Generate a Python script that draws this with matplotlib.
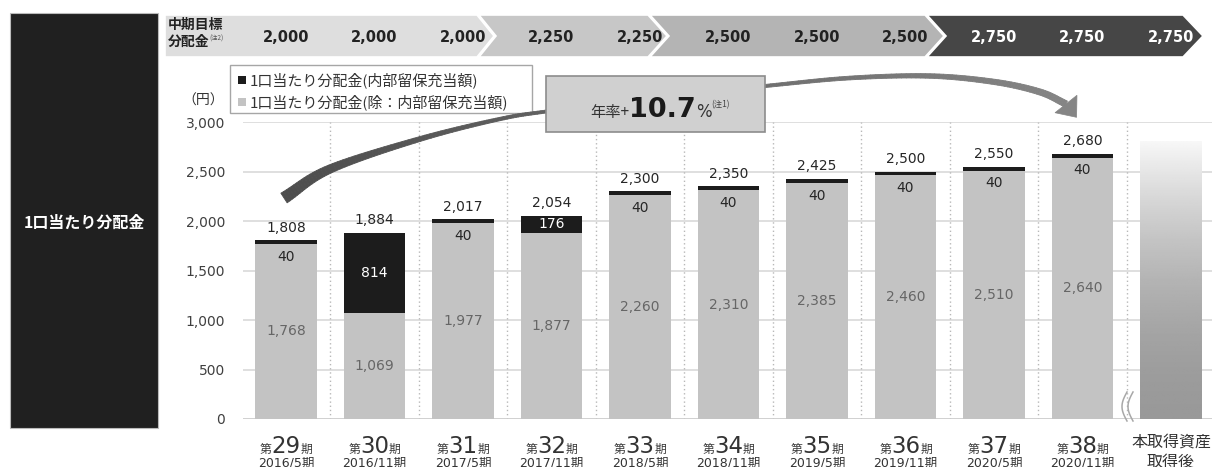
import numpy as np
import matplotlib
matplotlib.use('Agg')
import matplotlib.pyplot as plt
from matplotlib.patches import Polygon, Rectangle
from matplotlib.collections import PolyCollection
from matplotlib.transforms import blended_transform_factory, offset_copy
from matplotlib.ticker import FuncFormatter

# ---------------- data ----------------
period_numbers = ['29', '30', '31', '32', '33', '34', '35', '36', '37', '38']
period_dates = ['2016/5期', '2016/11期', '2017/5期', '2017/11期', '2018/5期',
                '2018/11期', '2019/5期', '2019/11期', '2020/5期', '2020/11期']
last_label = ['本取得資産', '取得後']
base_dist = [1768, 1069, 1977, 1877, 2260, 2310, 2385, 2460, 2510, 2640]
reserve_dist = [40, 814, 40, 176, 40, 40, 40, 40, 40, 40]
total_dist = [1808, 1884, 2017, 2054, 2300, 2350, 2425, 2500, 2550, 2680]
target_dist = [2000, 2000, 2000, 2250, 2250, 2500, 2500, 2500, 2750, 2750, 2750]
growth_rate = '10.7'
y_ticks = [0, 500, 1000, 1500, 2000, 2500, 3000]
legend_labels = ['1口当たり分配金(内部留保充当額)', '1口当たり分配金(除：内部留保充当額)']
gradient_top = 2800

JP = ['Noto Sans CJK JP', 'DejaVu Sans']
MIX = ['DejaVu Sans', 'Noto Sans CJK JP']
NUM = ['DejaVu Sans']

W, H = 1214, 467
fig = plt.figure(figsize=(W / 100, H / 100), dpi=100)
fig.patch.set_facecolor('white')

# main axes: x=0 at 286px, 88.5 px per bar; y: 0 at 419px, 3000 at 122px
ax = fig.add_axes([243 / W, (H - 419) / H, (1212 - 243) / W, (419 - 122) / H], zorder=1)
ov = fig.add_axes([0, 0, 1, 1], zorder=5)
ov.set_xlim(0, W)
ov.set_ylim(H, 0)
ov.axis('off')
ov.patch.set_visible(False)
renderer = fig.canvas.get_renderer()

GRAY = '#c3c3c3'
BLACK = '#1c1c1c'
x = np.arange(len(base_dist))
bw = 0.70
ax.bar(x, base_dist, width=bw, color=GRAY, zorder=3)
ax.bar(x, reserve_dist, bottom=base_dist, width=bw, color=BLACK, zorder=3)

# gradient bar (after acquisition)
gx = len(base_dist)
t = np.linspace(0, 1, 256)
g = 0.60 + 0.37 * t ** 1.8
ax.imshow(g[:, None], extent=(gx - bw / 2, gx + bw / 2, 0, gradient_top), aspect='auto',
          cmap='gray', vmin=0, vmax=1, origin='lower', zorder=3)

ax.set_xlim(-0.486, 10.463)
ax.set_ylim(0, 3000)
ax.set_yticks(y_ticks)
ax.yaxis.set_major_formatter(FuncFormatter(lambda v, p: f'{int(v):,}'))
ax.tick_params(axis='y', length=0, pad=13, labelsize=10, labelcolor='#404040')
for lab in ax.get_yticklabels():
    lab.set_family(NUM)
ax.set_xticks([])
for s in ax.spines.values():
    s.set_visible(False)
ax.yaxis.grid(True, color='#d9d9d9', lw=1.2, zorder=0)
ax.set_axisbelow(True)
ax.axhline(0, color='#cfcfcf', lw=1.2, zorder=2)
for i in range(len(base_dist)):
    ax.vlines(i + 0.5, 0, 3000, colors='#b8b8b8', linestyles=(0, (1, 2)), lw=1, zorder=1)

# value labels
for i in range(len(base_dist)):
    ax.annotate(f'{total_dist[i]:,}', xy=(i, total_dist[i]), xytext=(0, 9), textcoords='offset points',
                ha='center', va='center', fontsize=10, color='#262626', family=NUM, zorder=5)
    if reserve_dist[i] < 100:
        ax.annotate(f'{reserve_dist[i]:,}', xy=(i, total_dist[i]), xytext=(0, -12), textcoords='offset points',
                    ha='center', va='center', fontsize=10, color='#262626', family=NUM, zorder=5)
    else:
        ax.text(i, base_dist[i] + reserve_dist[i] / 2, f'{reserve_dist[i]:,}', ha='center', va='center',
                fontsize=10, color='white', family=NUM, zorder=5)
    ax.text(i, base_dist[i] / 2, f'{base_dist[i]:,}', ha='center', va='center',
            fontsize=10, color='#666666', family=NUM, zorder=5)

# helper: compose mixed-size text row
def compose(pieces, xpos, ypos, trans, ha='center', zorder=20):
    made = []
    widths = []
    for s, size, weight, color, family, dy in pieces:
        tt = ov.text(0, 0, s, fontsize=size, fontweight=weight, color=color, family=family,
                     va='baseline', ha='left', zorder=zorder)
        widths.append(tt.get_window_extent(renderer).width)
        made.append((tt, dy))
    total = sum(widths)
    cur = -total / 2 if ha == 'center' else 0
    for (tt, dy), w in zip(made, widths):
        tt.set_transform(offset_copy(trans, fig=fig, x=cur, y=dy, units='dots'))
        tt.set_position((xpos, ypos))
        cur += w

bx = blended_transform_factory(ax.transData, ov.transData)

# category labels
for i, num in enumerate(period_numbers):
    compose([('第', 8.5, 'normal', '#3a3a3a', JP, 0),
             (num, 16.5, 'normal', '#333333', NUM, 0),
             ('期', 8.5, 'normal', '#3a3a3a', JP, 0)], i, 453, bx)
    ov.text(i, 457, period_dates[i], transform=bx, ha='center', va='top', fontsize=9,
            color='#333333', family=MIX)
ov.text(gx, 442, last_label[0], transform=bx, ha='center', va='center', fontsize=11.5,
        color='#333333', family=JP)
ov.text(gx, 463, last_label[1], transform=bx, ha='center', va='center', fontsize=11.5,
        color='#333333', family=JP)

# break mark
for dx in (0, 6):
    yy = np.linspace(392, 421, 30)
    xx = 1127 + dx - 5 * np.sin(np.pi * (yy - 392) / 29)
    ov.plot(xx, yy, color='#a8a8a8', lw=1.1, zorder=6)

# left black box
ov.add_patch(Rectangle((10, 13), 148, 415, facecolor='#202020', edgecolor='#bbbbbb', lw=0.8, zorder=2))
ov.text(84, 223, '1口当たり分配金', ha='center', va='center', fontsize=11.5, fontweight='bold',
        color='white', family=JP, zorder=3)

# banner chevrons
segs = [
    [(165, 15), (477, 15), (494, 36), (477, 57), (165, 57)],
    [(479, 15), (648, 15), (667, 36), (648, 57), (479, 57), (496, 36)],
    [(650, 15), (925, 15), (944, 36), (925, 57), (650, 57), (669, 36)],
    [(927, 15), (1183, 15), (1203, 36), (1183, 57), (927, 57), (946, 36)],
]
seg_cols = ['#dedede', '#c7c7c7', '#b4b4b4', '#464646']
for pts, c in zip(segs, seg_cols):
    ov.add_patch(Polygon(pts, closed=True, facecolor=c, edgecolor='white', lw=1.2, zorder=2))
seg_of = [0, 0, 0, 1, 1, 2, 2, 2, 3, 3, 3]
for i, v in enumerate(target_dist):
    col = 'white' if seg_of[i] == 3 else '#222222'
    ov.text(i, 37, f'{v:,}', transform=bx, ha='center', va='center', fontsize=10.5,
            fontweight='bold', color=col, family=NUM, zorder=4)
ov.text(168, 25, '中期目標', ha='left', va='center', fontsize=10, fontweight='bold',
        color='#222222', family=JP, zorder=4)
compose([('分配金', 10, 'bold', '#222222', JP, 0),
         ('(注2)', 4.5, 'normal', '#555555', JP, 5)], 168, 46, ov.transData, ha='left', zorder=4)

# legend
ov.add_patch(Rectangle((230, 65), 302, 48, facecolor='white', edgecolor='#a6a6a6', lw=1, zorder=8))
ov.add_patch(Rectangle((238, 76), 8, 8, facecolor=BLACK, edgecolor='none', zorder=9))
ov.add_patch(Rectangle((238, 98), 8, 8, facecolor=GRAY, edgecolor='none', zorder=9))
ov.text(250, 80, legend_labels[0], ha='left', va='center', fontsize=10.8, color='#333333', family=JP, zorder=9)
ov.text(250, 102, legend_labels[1], ha='left', va='center', fontsize=10.8, color='#333333', family=JP, zorder=9)
ov.text(203, 101, '（円）', ha='center', va='center', fontsize=10, color='#333333', family=JP, zorder=9)

# curved growth arrow (pixel coords)
P = np.array([(284, 198), (330, 169), (420, 139), (500, 119), (550, 111), (660, 97), (765, 86),
              (850, 78), (930, 76), (995, 82), (1040, 92), (1066, 104)], dtype=float)
Pe = np.vstack([2 * P[0] - P[1], P, 2 * P[-1] - P[-2]])
curve = []
for k in range(1, len(Pe) - 2):
    p0, p1, p2, p3 = Pe[k - 1], Pe[k], Pe[k + 1], Pe[k + 2]
    for tt in np.linspace(0, 1, 16, endpoint=False):
        t2, t3 = tt * tt, tt * tt * tt
        curve.append(0.5 * ((2 * p1) + (-p0 + p2) * tt + (2 * p0 - 5 * p1 + 4 * p2 - p3) * t2
                            + (-p0 + 3 * p1 - 3 * p2 + p3) * t3))
curve.append(P[-1])
curve = np.array(curve)
tan = np.gradient(curve, axis=0)
tan /= np.linalg.norm(tan, axis=1)[:, None]
nrm = np.stack([-tan[:, 1], tan[:, 0]], axis=1)
seglen = np.r_[0, np.cumsum(np.linalg.norm(np.diff(curve, axis=0), axis=1))]
s = seglen / seglen[-1]
wid = 2.0 + 9.5 * (1 - s) ** 6 + 4.5 * s ** 3
L = curve + nrm * (wid / 2)[:, None]
R = curve - nrm * (wid / 2)[:, None]
quads = []
cols = []
c0 = np.array([0.30, 0.30, 0.30])
c1 = np.array([0.52, 0.52, 0.52])
for k in range(len(curve) - 1):
    quads.append([L[k], L[k + 1], R[k + 1], R[k]])
    c = c0 + (c1 - c0) * s[k]
    cols.append(tuple(c))
ov.add_collection(PolyCollection(quads, facecolors=cols, edgecolors=cols, lw=0.6, zorder=10))
E = curve[-1]
d = np.array([0.62, 0.78])
d /= np.linalg.norm(d)
n = np.array([-d[1], d[0]])
head = [E + n * 14, E - n * 14, E + d * 17]
ov.add_patch(Polygon(head, closed=True, facecolor=tuple(c1), edgecolor=tuple(c1), lw=0.5, zorder=10))

# growth-rate box
ov.add_patch(Rectangle((546, 76), 219, 56, facecolor='#d0d0d0', edgecolor='#8c8c8c', lw=1.2, zorder=12))
compose([('年率+', 11, 'normal', '#333333', JP, 0),
         (growth_rate, 19.5, 'bold', '#1a1a1a', NUM, 0),
         ('%', 12, 'normal', '#333333', NUM, 0),
         ('(注1)', 6, 'normal', '#444444', JP, 10)], 590, 117, ov.transData, ha='left', zorder=14)

fig.savefig('out.png', dpi=100, facecolor='white')
